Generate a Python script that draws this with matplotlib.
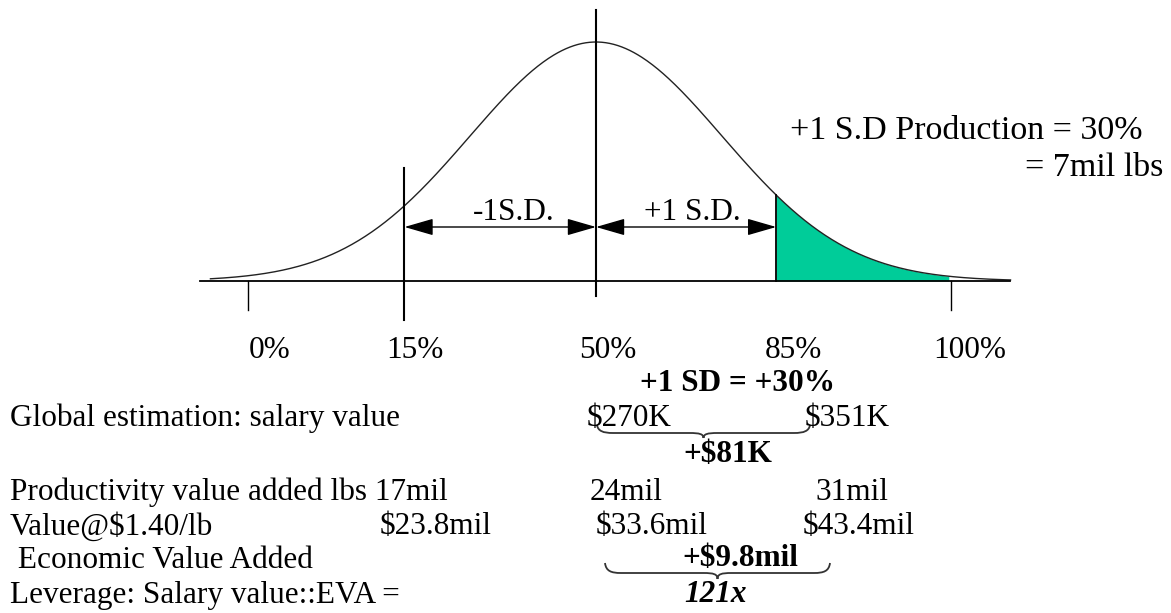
import numpy as np
import matplotlib
matplotlib.use("Agg")
import matplotlib.pyplot as plt
from matplotlib.path import Path
from matplotlib.patches import PathPatch, FancyArrowPatch

# ---- data ----
pct_labels = ["0%", "15%", "50%", "85%", "100%"]
pct_z = [-2.76, -1.52, 0.0, 1.43, 2.82]          # position of each percentile mark (curve sigma units)
sd_labels = ["-1S.D.", "+1 S.D."]
shade_range = (1.43, 2.80)
curve_range = (-3.06, 3.29)

rows = [
    ("Global estimation: salary value", ["$270K", "$351K"]),
    ("Productivity value added lbs 17mil", ["24mil", "31mil"]),
    ("Value@$1.40/lb", ["$23.8mil", "$33.6mil", "$43.4mil"]),
    (" Economic Value Added", ["+$9.8mil"]),
    ("Leverage: Salary value::EVA =", ["121x"]),
]

W, H = 1171, 613
fig = plt.figure(figsize=(W / 100, H / 100), dpi=100)
ax = fig.add_axes([0, 0, 1, 1])
# pixel mapping: centre x=596, sigma=126px ; baseline y=281, peak height 239px
cx, sx, by, sy = 596, 126, 281, 239
ax.set_xlim((0 - cx) / sx, (W - cx) / sx)
ax.set_ylim((by - H) / sy, by / sy)
ax.axis("off")

FONT = "Liberation Serif"
FS = 22.5
plt.rcParams["font.family"] = FONT

def px(x, y):
    return ((x - cx) / sx, (by - y) / sy)

# curve
z = np.linspace(curve_range[0], curve_range[1], 600)
f = np.exp(-z ** 2 / 2)
ax.plot(z, f, color="#222222", lw=1.0)
# shaded tail
zs = np.linspace(shade_range[0], shade_range[1], 200)
ax.fill_between(zs, 0, np.exp(-zs ** 2 / 2), color="#00CC99", lw=0)
ax.plot([shade_range[0], shade_range[0]], [0, np.exp(-shade_range[0] ** 2 / 2)], color="black", lw=1.3)

# baseline
ax.plot([px(200, 0)[0], px(1010, 0)[0]], [0, 0], color="black", lw=1.3)

# vertical marks
ax.plot([pct_z[0]] * 2, [0, px(0, 310)[1]], color="black", lw=1.0)
ax.plot([pct_z[4]] * 2, [0, px(0, 310)[1]], color="black", lw=1.0)
ax.plot([pct_z[1]] * 2, [px(0, 168)[1], px(0, 320)[1]], color="black", lw=1.5)
ax.plot([pct_z[2]] * 2, [px(0, 10)[1], px(0, 296)[1]], color="black", lw=1.5)

# SD arrows
ay = px(0, 227)[1]
for a, b in [(pct_z[1], pct_z[2]), (pct_z[2], pct_z[3])]:
    ax.add_patch(FancyArrowPatch((a, ay), (b, ay), arrowstyle="<|-|>,head_length=0.9,head_width=0.26",
                                 mutation_scale=20, color="black", lw=1.0, shrinkA=0, shrinkB=0))
ax.text(*px(514, 212), sd_labels[0], ha="center", va="center", fontsize=FS, family=FONT)
ax.text(*px(692, 212), sd_labels[1], ha="center", va="center", fontsize=FS, family=FONT)

# percentile labels
pct_x = [270, 415, 608, 793, 970]
for lab, xx in zip(pct_labels, pct_x):
    ax.text(px(xx, 0)[0], px(0, 350)[1], lab, ha="center", va="center", fontsize=FS, family=FONT)

def T(x, y, s, ha="left", fs=FS, **kw):
    X, Y = px(x, y)
    ax.text(X, Y, s, ha=ha, va="center", fontsize=fs, family=FONT, **kw)

T(790, 131, "+1 S.D Production = 30%", fs=24.5)
T(1163, 168, "= 7mil lbs", ha="right", fs=24.5)

T(737, 383, "+1 SD = +30%", ha="center", weight="bold")

T(10, 418, rows[0][0])
T(587, 418, rows[0][1][0])
T(805, 418, rows[0][1][1])
T(728, 455, "+$81K", ha="center", weight="bold")

T(10, 492, rows[1][0])
T(590, 492, rows[1][1][0])
T(815, 492, rows[1][1][1])

T(10, 527, rows[2][0])
T(380, 527, rows[2][1][0])
T(596, 527, rows[2][1][1])
T(803, 527, rows[2][1][2])

T(10, 561, rows[3][0])
T(740, 559, rows[3][1][0], ha="center", weight="bold")

T(10, 596, rows[4][0])
T(716, 594, rows[4][1][0], ha="center", weight="bold", style="italic")

def brace(x0, x1, ytop, a, h):
    xm = (x0 + x1) / 2
    yl = ytop + a
    verts = [px(x0, ytop)]
    codes = [Path.MOVETO]
    verts += [px(x0 + 1, yl - 2), px(x0 + 6, yl), px(x0 + 16, yl)]
    codes += [Path.CURVE4] * 3
    verts += [px(xm - 14, yl)]
    codes += [Path.LINETO]
    verts += [px(xm - 4, yl), px(xm, yl + 1), px(xm, ytop + h)]
    codes += [Path.CURVE4] * 3
    verts += [px(xm, yl + 1), px(xm + 4, yl), px(xm + 14, yl)]
    codes += [Path.CURVE4] * 3
    verts += [px(x1 - 16, yl)]
    codes += [Path.LINETO]
    verts += [px(x1 - 6, yl), px(x1 - 1, yl - 2), px(x1, ytop)]
    codes += [Path.CURVE4] * 3
    ax.add_patch(PathPatch(Path(verts, codes), fill=False, lw=1.3, edgecolor="#333333"))

brace(597, 810, 425, 8, 13)
brace(605, 830, 563, 10, 16)

fig.savefig("out.png", dpi=100)
